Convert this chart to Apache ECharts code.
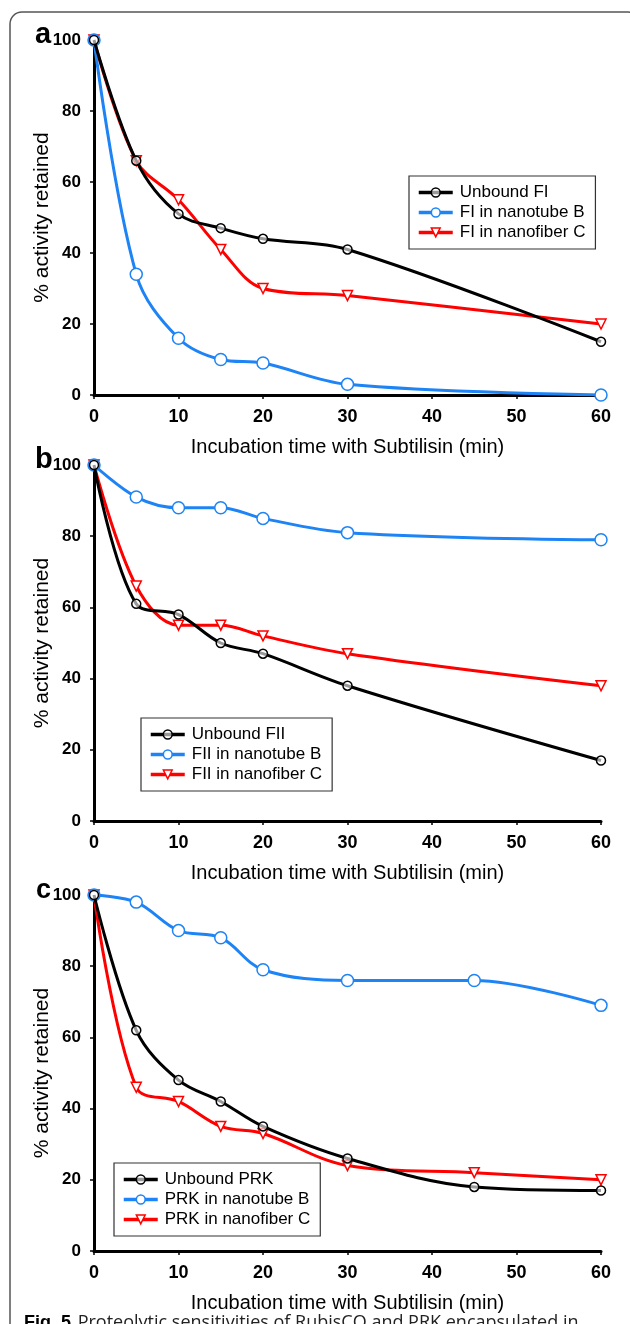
<!DOCTYPE html>
<html><head><meta charset="utf-8">
<script src="https://cdn.jsdelivr.net/npm/echarts@6/dist/echarts.min.js"></script>
<style>html,body{margin:0;padding:0;background:#fff}#c{width:630px;height:1324px}</style>
</head><body><div id="c"></div>
<script>
// ---- data ----
const timesAB = [0, 5, 10, 15, 20, 30, 60];
const timesC = [0, 5, 10, 15, 20, 30, 45, 60];
const xTicks = [0, 10, 20, 30, 40, 50, 60];
const yTicks = [0, 20, 40, 60, 80, 100];

const aNames = ['Unbound FI', 'FI in nanotube B', 'FI in nanofiber C'];
const aUnbound = [100, 66, 51, 47, 44, 41, 15];
const aTube = [100, 34, 16, 10, 9, 3, 0];
const aFiber = [100, 66, 55, 41, 30, 28, 20];

const bNames = ['Unbound FII', 'FII in nanotube B', 'FII in nanofiber C'];
const bUnbound = [100, 61, 58, 50, 47, 38, 17];
const bTube = [100, 91, 88, 88, 85, 81, 79];
const bFiber = [100, 66, 55, 55, 52, 47, 38];

const cNames = ['Unbound PRK', 'PRK in nanotube B', 'PRK in nanofiber C'];
const cUnbound = [100, 62, 48, 42, 35, 26, 18, 17];
const cTube = [100, 98, 90, 88, 79, 76, 76, 69];
const cFiber = [100, 46, 42, 35, 33, 24, 22, 20];

const panelLetters = ['a', 'b', 'c'];
const xTitle = 'Incubation time with Subtilisin (min)';
const yTitle = '% activity retained';

// ---- styling ----
const BLACK = '#000000', BLUE = '#1e84f5', RED = '#ff0000';
const FONT = "'Liberation Sans Narrow','Liberation Sans',Arial,sans-serif";
const grids = [
  {left: 94, right: 29, top: 40, height: 355},
  {left: 94, right: 29, top: 465, height: 356},
  {left: 94, right: 29, top: 895, height: 356}
];
const legendPos = [
  {left: 409, top: 176},
  {left: 141, top: 718},
  {left: 114, top: 1163}
];

function pairs(xs, ys) { return xs.map((x, i) => [x, ys[i]]); }

const panels = [
  {names: aNames, xs: timesAB, ys: [aUnbound, aTube, aFiber]},
  {names: bNames, xs: timesAB, ys: [bUnbound, bTube, bFiber]},
  {names: cNames, xs: timesC, ys: [cUnbound, cTube, cFiber]}
];

const styles = [
  {color: BLACK, symbol: 'circle', size: 9, fill: 'rgba(255,255,255,0.6)', rotate: 0},
  {color: BLUE, symbol: 'circle', size: 12, fill: '#ffffff', rotate: 0},
  {color: RED, symbol: 'triangle', size: 10, fill: '#ffffff', rotate: 180}
];

const xAxes = [], yAxes = [], series = [], legends = [], graphics = [];
panels.forEach((p, gi) => {
  xAxes.push({
    type: 'value', gridIndex: gi, min: 0, max: 60, interval: 10,
    axisLine: {show: true, lineStyle: {color: BLACK, width: 3}},
    axisTick: {show: true, length: 4, lineStyle: {color: BLACK, width: 1.5}},
    axisLabel: {color: BLACK, fontFamily: FONT, fontWeight: 'bold', fontSize: 18, margin: 13},
    splitLine: {show: false},
    name: xTitle, nameLocation: 'middle', nameGap: 42,
    nameTextStyle: {color: BLACK, fontFamily: FONT, fontSize: 20}
  });
  yAxes.push({
    type: 'value', gridIndex: gi, min: 0, max: 100, interval: 20,
    axisLine: {show: true, lineStyle: {color: BLACK, width: 3}},
    axisTick: {show: true, length: 4, lineStyle: {color: BLACK, width: 1.5}},
    axisLabel: {color: BLACK, fontFamily: FONT, fontWeight: 'bold', fontSize: 17, margin: 13},
    splitLine: {show: false},
    name: yTitle, nameLocation: 'middle', nameGap: 41, nameMoveOverlap: false,
    nameTextStyle: {color: BLACK, fontFamily: FONT, fontSize: 21}
  });
  p.names.forEach((nm, si) => {
    const st = styles[si];
    series.push({
      name: nm, type: 'line', xAxisIndex: gi, yAxisIndex: gi,
      data: pairs(p.xs, p.ys[si]), smooth: 0.35,
      symbol: st.symbol, symbolSize: st.size, symbolRotate: st.rotate,
      showSymbol: true,
      lineStyle: {color: st.color, width: 3},
      itemStyle: {color: st.fill, borderColor: st.color, borderWidth: 1.5},
      z: 3 - si + 2,
      animation: false
    });
  });
  legends.push({
    data: p.names.map((nm, si) => ({name: nm, itemStyle: {color: styles[si].fill, borderColor: styles[si].color, borderWidth: 1.5}})),
    orient: 'vertical', left: legendPos[gi].left, top: legendPos[gi].top,
    itemWidth: 34, itemHeight: 11, itemGap: 3,
    padding: [8, 10, 8, 8],
    lineStyle: {width: 3.5},
    backgroundColor: '#ffffff', borderColor: '#333333', borderWidth: 1.2,
    textStyle: {color: BLACK, fontFamily: FONT, fontSize: 17, lineHeight: 17, padding: [0, 0, 0, 2]},
    selectedMode: false
  });
  graphics.push({
    type: 'text', left: gi === 2 ? 36 : 35, top: grids[gi].top - (gi === 2 ? 18 : 20),
    style: {text: panelLetters[gi], fontFamily: "'Liberation Sans',Arial,sans-serif", fontWeight: 'bold', fontSize: gi === 2 ? 27 : 29, fill: BLACK}
  });
});

graphics.push({
  type: 'rect', shape: {x: 10, y: 12, width: 630, height: 1400, r: 12},
  style: {fill: 'none', stroke: '#555555', lineWidth: 1.5}, z: -10
});
graphics.push({
  type: 'text', left: 24, top: 1314,
  style: {rich: {b: {fontWeight: 'bold', fontSize: 18, fontFamily: "'Liberation Sans',Arial,sans-serif", fill: '#000'}, n: {fontSize: 18, fontFamily: "'Open Sans','Liberation Sans',sans-serif", fill: '#222'}},
    text: '{b|Fig. 5}  {n|Proteolytic sensitivities of RubisCO and PRK encapsulated in}'}
});

const chart = echarts.init(document.getElementById('c'), null, {renderer: 'canvas'});
chart.setOption({
  animation: false,
  backgroundColor: '#ffffff',
  grid: grids,
  xAxis: xAxes,
  yAxis: yAxes,
  series: series,
  legend: legends,
  graphic: graphics
});
</script></body></html>
